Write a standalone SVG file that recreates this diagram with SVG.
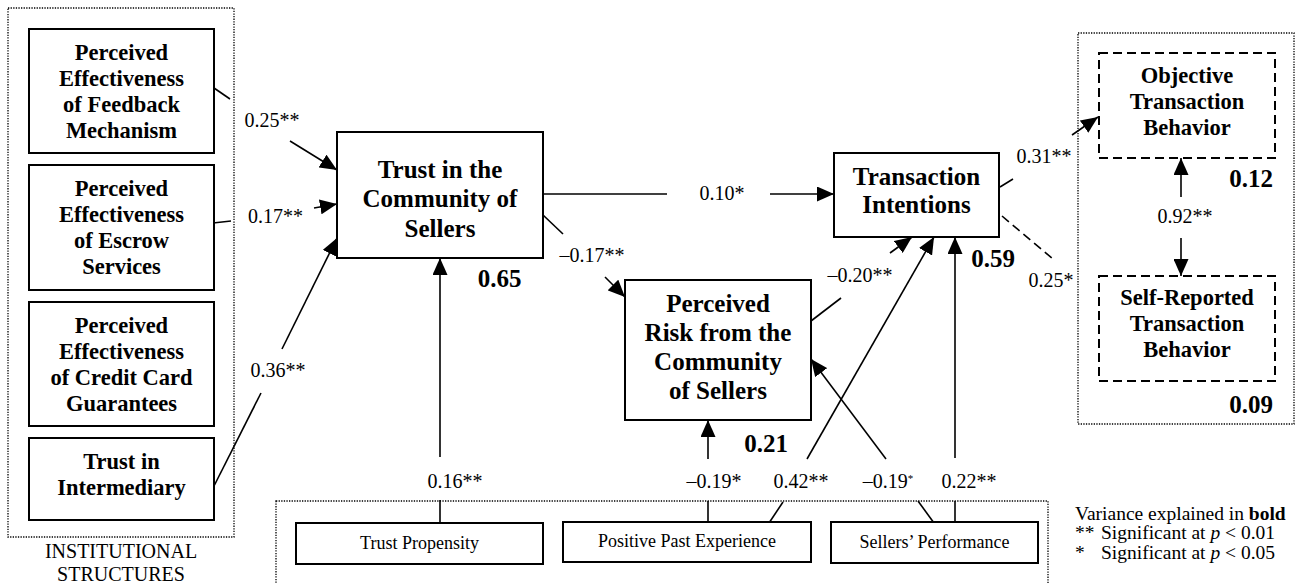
<svg xmlns="http://www.w3.org/2000/svg" width="1296" height="583" viewBox="0 0 1296 583">
<style>
.box{fill:#fff;stroke:#000;stroke-width:2}
.dbox{fill:#fff;stroke:#000;stroke-width:2;stroke-dasharray:9 5}
.dot{fill:none;stroke:#000;stroke-width:1.3;stroke-dasharray:1.3 1.3}
.b22{font-family:"Liberation Serif","Times New Roman",serif;font-weight:bold;font-size:22.5px;text-anchor:middle}
.b25{font-family:"Liberation Serif","Times New Roman",serif;font-weight:bold;font-size:25px;text-anchor:middle}
.r18{font-family:"Liberation Serif","Times New Roman",serif;font-size:18px;text-anchor:middle}
.lab{font-family:"Liberation Serif","Times New Roman",serif;font-size:20px;text-anchor:middle}
.leg{font-family:"Liberation Serif","Times New Roman",serif;font-size:19.5px}
.e{stroke:#000;stroke-width:1.6;fill:none}
.ea{stroke:#000;stroke-width:1.6;fill:none;marker-end:url(#ah)}
.ed{stroke:#000;stroke-width:1.6;fill:none;stroke-dasharray:9 5}
</style>
<defs>
<marker id="ah" markerWidth="17" markerHeight="15" refX="17" refY="7.5" orient="auto" markerUnits="userSpaceOnUse">
<path d="M0,0 L17,7.5 L0,15 z" fill="#000"/>
</marker>
</defs>
<rect width="1296" height="583" fill="#fff"/>

<!-- grouping frames -->
<g id="institutional-structures">
<rect class="dot" x="8" y="8" width="226" height="529"/>
<text class="lab" x="121" y="558">INSTITUTIONAL</text>
<text class="lab" x="121" y="581">STRUCTURES</text>
</g>
<g id="behavior-frame"><rect class="dot" x="1078" y="33" width="216" height="391"/></g>
<g id="antecedents-frame"><rect class="dot" x="276" y="501" width="772" height="110"/></g>

<!-- connectors -->
<g id="connectors">
<line class="e" x1="214" y1="88" x2="230" y2="99"/>
<line class="ea" x1="290" y1="141" x2="337" y2="170"/>
<text class="lab" x="272" y="127">0.25**</text>

<line class="e" x1="213" y1="223" x2="231" y2="221"/>
<line class="ea" x1="314" y1="208" x2="337" y2="204"/>
<text class="lab" x="275.5" y="223">0.17**</text>

<line class="e" x1="214" y1="486" x2="261" y2="393"/>
<line class="ea" x1="282" y1="349" x2="337" y2="238"/>
<text class="lab" x="278" y="377">0.36**</text>

<line class="e" x1="440" y1="523" x2="440" y2="500"/>
<line class="ea" x1="440" y1="457" x2="440" y2="258"/>
<text class="lab" x="455" y="488">0.16**</text>

<line class="e" x1="543" y1="194" x2="667" y2="194"/>
<line class="ea" x1="770" y1="194" x2="834" y2="194"/>
<text class="lab" x="722" y="200">0.10*</text>

<line class="e" x1="543" y1="215" x2="563" y2="234"/>
<line class="ea" x1="605" y1="277" x2="625" y2="297"/>
<text class="lab" x="592" y="262">–0.17**</text>

<line class="e" x1="708" y1="523" x2="708" y2="501"/>
<line class="ea" x1="708" y1="459" x2="708" y2="420"/>
<text class="lab" x="714" y="488">–0.19*</text>

<line class="e" x1="769" y1="523" x2="783" y2="502"/>
<line class="ea" x1="807" y1="459" x2="934" y2="237"/>
<text class="lab" x="801" y="488">0.42**</text>

<line class="e" x1="934" y1="523" x2="918" y2="501"/>
<line class="ea" x1="886" y1="459" x2="811" y2="359"/>
<text class="lab" x="888" y="488">–0.19<tspan font-size="11" dy="-6">*</tspan></text>

<line class="e" x1="955" y1="523" x2="955" y2="501"/>
<line class="ea" x1="955" y1="458" x2="955" y2="237"/>
<text class="lab" x="969" y="488">0.22**</text>

<line class="e" x1="811" y1="321" x2="841" y2="298"/>
<line class="ea" x1="890" y1="253" x2="912" y2="237"/>
<text class="lab" x="860" y="282">–0.20**</text>

<line class="e" x1="1000" y1="187" x2="1013" y2="179"/>
<line class="ea" x1="1072" y1="135" x2="1098" y2="117"/>
<text class="lab" x="1044" y="163">0.31**</text>

<line class="ed" x1="1002" y1="216" x2="1053" y2="259"/>
<text class="lab" x="1051" y="287">0.25*</text>

<line class="ea" x1="1181" y1="197" x2="1181" y2="158"/>
<line class="ea" x1="1181" y1="238" x2="1181" y2="276"/>
<text class="lab" x="1185" y="223">0.92**</text>
</g>

<!-- institutional nodes -->
<g id="feedback">
<rect class="box" x="29" y="29" width="185" height="124"/>
<text class="b22" x="121.5" y="60">Perceived</text>
<text class="b22" x="121.5" y="86">Effectiveness</text>
<text class="b22" x="121.5" y="112">of Feedback</text>
<text class="b22" x="121.5" y="138">Mechanism</text>
</g>
<g id="escrow">
<rect class="box" x="29" y="165" width="185" height="125"/>
<text class="b22" x="121.5" y="196">Perceived</text>
<text class="b22" x="121.5" y="222">Effectiveness</text>
<text class="b22" x="121.5" y="248">of Escrow</text>
<text class="b22" x="121.5" y="274">Services</text>
</g>
<g id="credit-card">
<rect class="box" x="29" y="302" width="185" height="124"/>
<text class="b22" x="121.5" y="333">Perceived</text>
<text class="b22" x="121.5" y="359">Effectiveness</text>
<text class="b22" x="121.5" y="385">of Credit Card</text>
<text class="b22" x="121.5" y="411">Guarantees</text>
</g>
<g id="intermediary">
<rect class="box" x="29" y="438" width="185" height="82"/>
<text class="b22" x="121.5" y="469">Trust in</text>
<text class="b22" x="121.5" y="495">Intermediary</text>
</g>

<!-- core nodes -->
<g id="trust-community">
<rect class="box" x="337" y="132" width="206" height="126"/>
<text class="b25" x="440" y="178">Trust in the</text>
<text class="b25" x="440" y="207">Community of</text>
<text class="b25" x="440" y="237">Sellers</text>
<text class="b25" x="499.5" y="287">0.65</text>
</g>
<g id="perceived-risk">
<rect class="box" x="625" y="280" width="186" height="140"/>
<text class="b25" x="718" y="312">Perceived</text>
<text class="b25" x="718" y="341">Risk from the</text>
<text class="b25" x="718" y="370">Community</text>
<text class="b25" x="718" y="399">of Sellers</text>
<text class="b25" x="766" y="452">0.21</text>
</g>
<g id="transaction-intentions">
<rect class="box" x="834" y="153" width="165" height="84"/>
<text class="b25" x="916.5" y="185">Transaction</text>
<text class="b25" x="916.5" y="213">Intentions</text>
<text class="b25" x="993" y="267">0.59</text>
</g>
<g id="objective-behavior">
<rect class="dbox" x="1099" y="53" width="176" height="105"/>
<text class="b22" x="1187" y="83">Objective</text>
<text class="b22" x="1187" y="109">Transaction</text>
<text class="b22" x="1187" y="135">Behavior</text>
<text class="b25" x="1251" y="187">0.12</text>
</g>
<g id="self-reported-behavior">
<rect class="dbox" x="1099" y="276" width="176" height="105"/>
<text class="b22" x="1187" y="305">Self-Reported</text>
<text class="b22" x="1187" y="331">Transaction</text>
<text class="b22" x="1187" y="357">Behavior</text>
<text class="b25" x="1251" y="413">0.09</text>
</g>

<!-- antecedent nodes -->
<g id="trust-propensity">
<rect class="box" x="296" y="523" width="247" height="41"/>
<text class="r18" x="419.5" y="549">Trust Propensity</text>
</g>
<g id="past-experience">
<rect class="box" x="563" y="522" width="248" height="40"/>
<text class="r18" x="687" y="547">Positive Past Experience</text>
</g>
<g id="sellers-performance">
<rect class="box" x="831" y="522" width="207" height="41"/>
<text class="r18" x="934.5" y="548">Sellers’ Performance</text>
</g>

<!-- legend -->
<g id="legend">
<text class="leg" x="1075" y="520">Variance explained in <tspan font-weight="bold">bold</tspan></text>
<text class="leg" y="539"><tspan x="1075">**</tspan><tspan x="1101">Significant at <tspan font-style="italic">p</tspan> &lt; 0.01</tspan></text>
<text class="leg" y="559"><tspan x="1075">*</tspan><tspan x="1101">Significant at <tspan font-style="italic">p</tspan> &lt; 0.05</tspan></text>
</g>
</svg>
